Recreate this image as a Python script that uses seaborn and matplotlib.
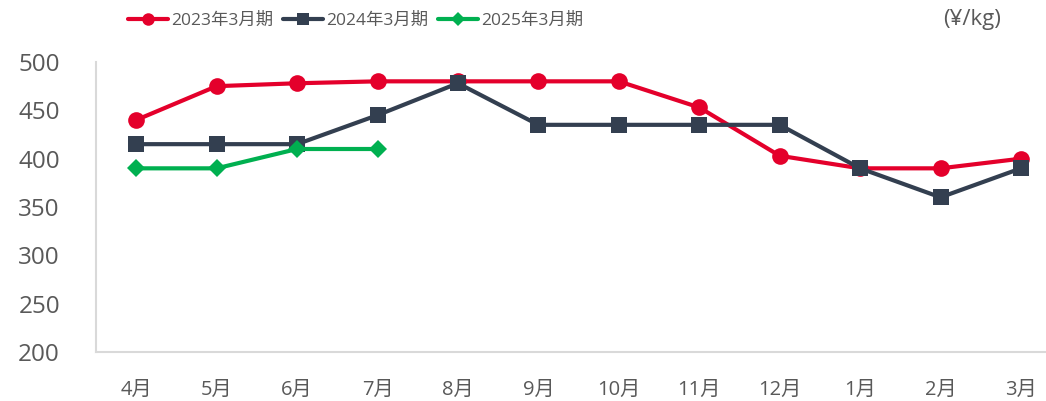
import matplotlib
matplotlib.use("Agg")
import matplotlib.pyplot as plt
from matplotlib.lines import Line2D
import seaborn as sns
import pandas as pd

months = ["4月", "5月", "6月", "7月", "8月", "9月", "10月", "11月", "12月", "1月", "2月", "3月"]
s2023 = [440, 475, 478, 480, 480, 480, 480, 453, 403, 390, 390, 400]
s2024 = [415, 415, 415, 445, 478, 435, 435, 435, 435, 390, 360, 390]
s2025 = [390, 390, 410, 410]
names = ["2023年3月期", "2024年3月期", "2025年3月期"]
colors = ["#E4002B", "#333F50", "#00B050"]
markers = ["o", "s", "D"]
msizes = [12, 12, 9]

sns.set_style("white")
plt.rcParams['font.family'] = ['Open Sans', 'Noto Sans CJK JP', 'DejaVu Sans']

frames = []
for name, vals in zip(names, [s2023, s2024, s2025]):
    frames.append(pd.DataFrame({"month": months[:len(vals)], "price": vals, "series": name}))
df = pd.concat(frames, ignore_index=True)

fig = plt.figure(figsize=(10.46, 4.01), dpi=100)
ax = fig.add_axes([96 / 1046, 1 - 352 / 401, 950 / 1046, 290 / 401])

for i, name in enumerate(names):
    sub = df[df["series"] == name]
    sns.lineplot(data=sub, x="month", y="price", ax=ax, color=colors[i], marker=markers[i],
                 markersize=msizes[i], markeredgewidth=0, linewidth=3, sort=False,
                 legend=False, zorder=3 + i)

ax.set_xlim(-0.5, (1046 - 136) / 80.45)
ax.set_ylim(200, 500)
ax.set_yticks([200, 250, 300, 350, 400, 450, 500])
ax.set_xlabel("")
ax.set_ylabel("")
for s in ["top", "right"]:
    ax.spines[s].set_visible(False)
for s in ["left", "bottom"]:
    ax.spines[s].set_color("#D9D9D9")
    ax.spines[s].set_linewidth(1.5)
ax.tick_params(axis="y", labelsize=17.5, colors="#595959", length=0, pad=26)
ax.tick_params(axis="x", labelsize=14.5, colors="#595959", length=0, pad=20)
for lab in ax.get_yticklabels():
    lab.set_horizontalalignment("right")

handles = [Line2D([0], [0], color=c, marker=m, markersize=ms * 0.75, markeredgewidth=0, linewidth=3)
           for c, m, ms in zip(colors, markers, msizes)]
fig.legend(handles, names, loc="center left", bbox_to_anchor=(121 / 1046, 1 - 21 / 401), ncol=3,
           frameon=False, fontsize=12.5, labelcolor="#595959", handlelength=2.3, handletextpad=0.2,
           columnspacing=0.55, borderaxespad=0)
fig.text(972 / 1046, 1 - 20 / 401, "(¥/kg)", ha="center", va="center", fontsize=16, color="#595959")

fig.savefig("out.png", dpi=100)
